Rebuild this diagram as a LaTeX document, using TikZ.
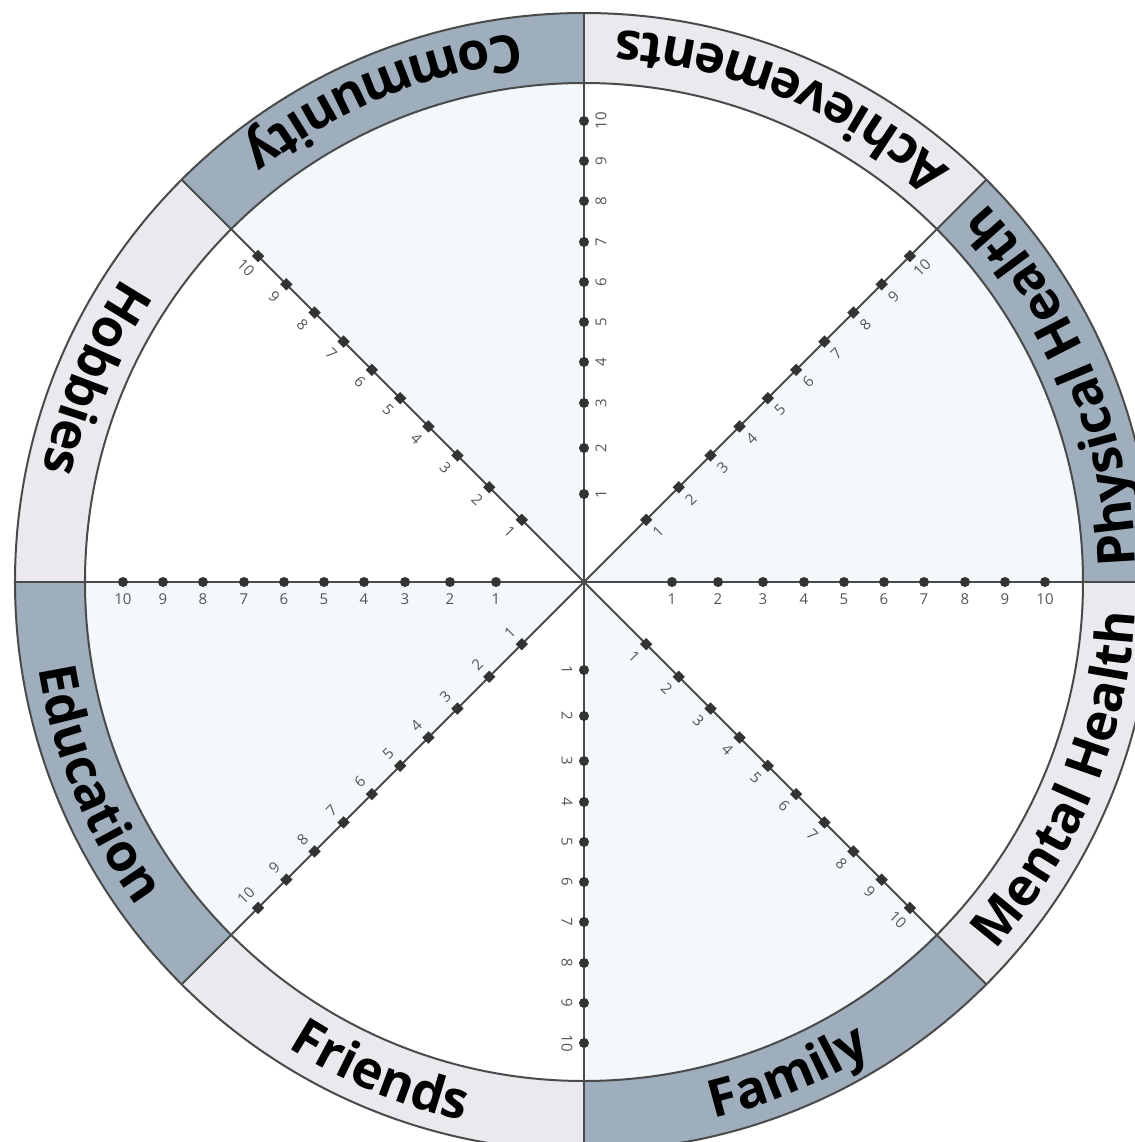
\documentclass[tikz,border=0pt]{standalone}
\usepackage{fontspec}
\setmainfont{Open Sans}
\usetikzlibrary{decorations.text}
\definecolor{ringdark}{HTML}{9EAEBC}
\definecolor{ringlight}{HTML}{EAE9EE}
\definecolor{wedge}{HTML}{F3F9FA}
\definecolor{axisgray}{HTML}{4A4A4A}
\definecolor{markgray}{HTML}{333333}
\definecolor{tickgray}{HTML}{555555}

\begin{document}
\begin{tikzpicture}[x=0.5pt, y=0.5pt,
  spoke/.style={draw=axisgray, line width=1pt},
  rim/.style={draw=axisgray, line width=1pt},
  marker/.style={fill=markgray, inner sep=0pt, minimum size=#1},
  num/.style={font=\fontsize{7.5}{8}\selectfont, text=tickgray, inner sep=0pt},
  ringtext/.style={decorate, decoration={text along path, text align=center,
      text={|\fontsize{26}{30}\selectfont\bfseries|#1}}}]

\coordinate (c) at (0,0);
\useasboundingbox (-584,-560) rectangle (551,582);

% shaded wedges and dark ring parts
\foreach \a [evaluate=\a as \b using \a+45] in {0,90,180,270} {
  \fill[wedge] (c) -- (\a:499) arc[start angle=\a, end angle=\b, radius=499] -- cycle;
  \fill[ringdark] (\a:499) arc[start angle=\a, end angle=\b, radius=499]
    -- (\b:569) arc[start angle=\b, end angle=\a, radius=569] -- cycle;
}
% light ring parts
\foreach \a [evaluate=\a as \b using \a+45] in {45,135,225,315}
  \fill[ringlight] (\a:499) arc[start angle=\a, end angle=\b, radius=499]
    -- (\b:569) arc[start angle=\b, end angle=\a, radius=569] -- cycle;

% rims
\draw[rim] (c) circle[radius=499];
\draw[rim] (c) circle[radius=569];

% spokes
\foreach \a in {0,45,...,315} {
  \coordinate (rim\a) at (\a:569);
  \draw[spoke] (c) -- (rim\a);
}

% scale marks 1..10 on every spoke
\foreach \a/\o/\r/\s/\z in {0/-90/0/circle/5pt, 90/0/90/circle/5pt,
    180/-90/0/circle/5pt, 270/180/-90/circle/5pt,
    45/-45/45/rectangle/4.4pt, 135/-135/-45/rectangle/4.4pt,
    225/135/45/rectangle/4.4pt, 315/-135/-45/rectangle/4.4pt}
  \foreach \d [count=\n] in {88,134,179,220,260,300,340,381,421,461} {
    \node[marker=\z, shape=\s, rotate=\a] (m\a-\n) at (\a:\d) {};
    \node[num, rotate=\r] (n\a-\n) at ([shift={(\o:17)}]m\a-\n.center) {\n};
  }

% ring captions
\path[ringtext=Physical Health] (0:552) arc[start angle=0, end angle=45, radius=552];
\path[ringtext=Achievements] (45:552) arc[start angle=45, end angle=90, radius=552];
\path[ringtext=Community] (90:552) arc[start angle=90, end angle=135, radius=552];
\path[ringtext=Hobbies] (135:552) arc[start angle=135, end angle=180, radius=552];
\path[ringtext=Education] (180:552) arc[start angle=180, end angle=225, radius=552];
\path[ringtext=Friends] (225:552) arc[start angle=225, end angle=270, radius=552];
\path[ringtext=Family] (270:552) arc[start angle=270, end angle=315, radius=552];
\path[ringtext=Mental Health] (315:552) arc[start angle=315, end angle=360, radius=552];

\end{tikzpicture}
\end{document}
